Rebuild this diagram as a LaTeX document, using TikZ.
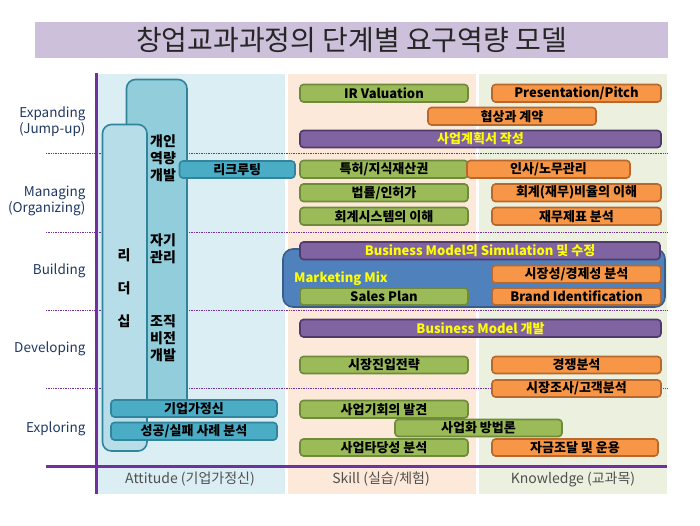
\documentclass[tikz,border=0pt]{standalone}
\usepackage{fontspec}
\setmainfont{Noto Sans CJK KR}
\definecolor{titlebg}{HTML}{CCC0DA}
\definecolor{attbg}{HTML}{DAEEF3}
\definecolor{skillbg}{HTML}{FDE9D9}
\definecolor{knowbg}{HTML}{EBF1DE}
\definecolor{axiscol}{HTML}{7030A0}
\definecolor{navy}{HTML}{1F3864}
\definecolor{gfill}{HTML}{9BBB59}
\definecolor{gdraw}{HTML}{6E8A3A}
\definecolor{ofill}{HTML}{F79646}
\definecolor{odraw}{HTML}{B8682C}
\definecolor{pfill}{HTML}{8064A2}
\definecolor{pdraw}{HTML}{4F3A6B}
\definecolor{bfill}{HTML}{4F81BD}
\definecolor{bdraw}{HTML}{385D8A}
\definecolor{tfill}{HTML}{4BACC6}
\definecolor{tdraw}{HTML}{31849B}
\definecolor{lfill}{HTML}{B7DEE8}
\definecolor{kfill}{HTML}{92CDDC}
\definecolor{yel}{HTML}{FFFF00}
\definecolor{axtext}{HTML}{505050}
\newcommand{\bx}[7]{\node[#1, minimum width={#5-#3}, minimum height={#6-#4}] (#2) at ({(#3+#5)/2},{(#4+#6)/2}) {#7};}
\begin{document}
\begin{tikzpicture}[x=1pt,y=-1pt,
  bxbase/.style={rounded corners=3.5pt, line width=1.6pt, inner sep=0pt, font=\bfseries\fontsize{13}{13}\selectfont, text=black},
  gbox/.style={bxbase, fill=gfill, draw=gdraw},
  obox/.style={bxbase, fill=ofill, draw=odraw},
  pbox/.style={bxbase, fill=pfill, draw=pdraw, text=yel},
  tbox/.style={bxbase, fill=tfill, draw=tdraw},
  tall/.style={rounded corners=9pt, line width=1.6pt, draw=tdraw, inner sep=0pt},
  rowlab/.style={anchor=east, text=navy, align=right, font=\fontsize{13.5}{16}\selectfont},
  axlab/.style={text=axtext, font=\fontsize{14}{15}\selectfont},
  talltxt/.style={align=center, font=\bfseries\fontsize{14}{17}\selectfont, text=black},
  sep/.style={axiscol, line width=0.7pt, densely dotted}
]
\useasboundingbox (0,0) rectangle (700,525);
% title
\node[fill=titlebg, minimum width=633, minimum height=36, inner sep=0pt,
      font=\fontsize{28}{28}\selectfont, text={black!85}] (title) at (351.5,40) {창업교과과정의 단계별 요구역량 모델};
% column backgrounds
\fill[attbg] (97,74) rectangle (285,494);
\fill[skillbg] (288,74) rectangle (476,494);
\fill[knowbg] (479,74) rectangle (667,494);
% dotted separators
\coordinate (s1a) at (46,153); \coordinate (s1b) at (667,153);
\coordinate (s2a) at (46,232); \coordinate (s2b) at (667,232);
\coordinate (s3a) at (46,310); \coordinate (s3b) at (667,310);
\coordinate (s4a) at (46,388); \coordinate (s4b) at (667,388);
\draw[sep] (s1a) -- (s1b);
\draw[sep] (s2a) -- (s2b);
\draw[sep] (s3a) -- (s3b);
\draw[sep] (s4a) -- (s4b);
% axes
\coordinate (vt) at (96.5,73); \coordinate (vb) at (96.5,494);
\coordinate (hl) at (46,466.5); \coordinate (hr) at (667,466.5);
\draw[axiscol, line width=3pt] (hl) -- (hr);
\draw[axiscol, line width=3pt] (vt) -- (vb);
% row labels
\node[rowlab] (l1) at (89,122) {Expanding\\(Jump-up)};
\node[rowlab] (l2) at (89,200.5) {Managing\\(Organizing)};
\node[rowlab] (l3) at (89,271) {Building};
\node[rowlab] (l4) at (89,349) {Developing};
\node[rowlab] (l5) at (89,429) {Exploring};
% axis labels
\node[axlab] (a1) at (190,479) {Attitude (기업가정신)};
\node[axlab] (a2) at (381,479) {Skill (실습/체험)};
\node[axlab] (a3) at (573,479) {Knowledge (교과목)};
% tall boxes
\bx{tall, fill=kfill}{kbox}{126.5}{79.5}{187}{412}{}
\bx{tall, fill=lfill}{lbox}{102.5}{124.5}{147}{451}{}
\node[talltxt] (k1) at (163,158.5) {개인\\역량\\개발};
\node[talltxt] (k2) at (163,248.5) {자기\\관리};
\node[talltxt] (k3) at (163,338) {조직\\비전\\개발};
\node[align=center, font=\bfseries\fontsize{14}{33}\selectfont] (lt) at (124,288) {리\\더\\십};
% attitude boxes
\bx{tbox}{recruit}{179.5}{161}{295}{178}{리크루팅}
\bx{tbox}{entre}{111}{400}{277}{417}{기업가정신}
\bx{tbox}{case}{111}{422.5}{277}{440}{성공/실패 사례 분석}
% blue marketing box
\bx{rounded corners=10pt, line width=1.6pt, fill=bfill, draw=bdraw, inner sep=0pt}{mkt}{283}{249}{665}{307}{}
\node[anchor=west, text=yel, font=\bfseries\fontsize{13}{13}\selectfont, inner sep=0pt] (mktxt) at (294,279) {Marketing Mix};
% skill boxes
\bx{gbox}{irv}{300}{84.5}{468}{102}{IR Valuation}
\bx{gbox}{pat}{300}{160.5}{468}{178}{특허/지식재산권}
\bx{gbox}{law}{300}{184}{468}{201.5}{법률/인허가}
\bx{gbox}{accs}{300}{207.5}{468}{225}{회계시스템의 이해}
\bx{gbox}{sales}{300}{288}{468}{305}{Sales Plan}
\bx{gbox}{entry}{300}{356.5}{468}{373.5}{시장진입전략}
\bx{gbox}{opp}{300}{400.5}{468}{418}{사업기회의 발견}
\bx{gbox}{meth}{395}{419.5}{562}{436.5}{사업화 방법론}
\bx{gbox}{feas}{300}{439}{468}{456}{사업타당성 분석}
% knowledge boxes
\bx{obox}{pitch}{492}{84.5}{661}{102}{Presentation/Pitch}
\bx{obox}{nego}{428}{107.5}{596}{125}{협상과 계약}
\bx{obox}{hr}{467}{160.5}{630}{178}{인사/노무관리}
\bx{obox}{ratio}{492}{184}{661}{201.5}{회계(재무)비율의 이해}
\bx{obox}{fin}{492}{207.5}{661}{225}{재무제표 분석}
\bx{obox}{mkt2}{492}{265.5}{661}{283}{시장성/경제성 분석}
\bx{obox}{brand}{492}{288}{661}{305}{Brand Identification}
\bx{obox}{comp}{492}{356.5}{661}{373.5}{경쟁분석}
\bx{obox}{resch}{492}{380}{661}{397}{시장조사/고객분석}
\bx{obox}{fund}{492}{439}{658}{456}{자금조달 및 운용}
% purple boxes
\bx{pbox}{plan}{300}{130.5}{661}{147.5}{사업계획서 작성}
\bx{pbox}{sim}{300}{242}{660}{259.5}{Business Model의 Simulation 및 수정}
\bx{pbox}{bmdev}{300}{319.5}{661}{337}{Business Model 개발}
\end{tikzpicture}
\end{document}
